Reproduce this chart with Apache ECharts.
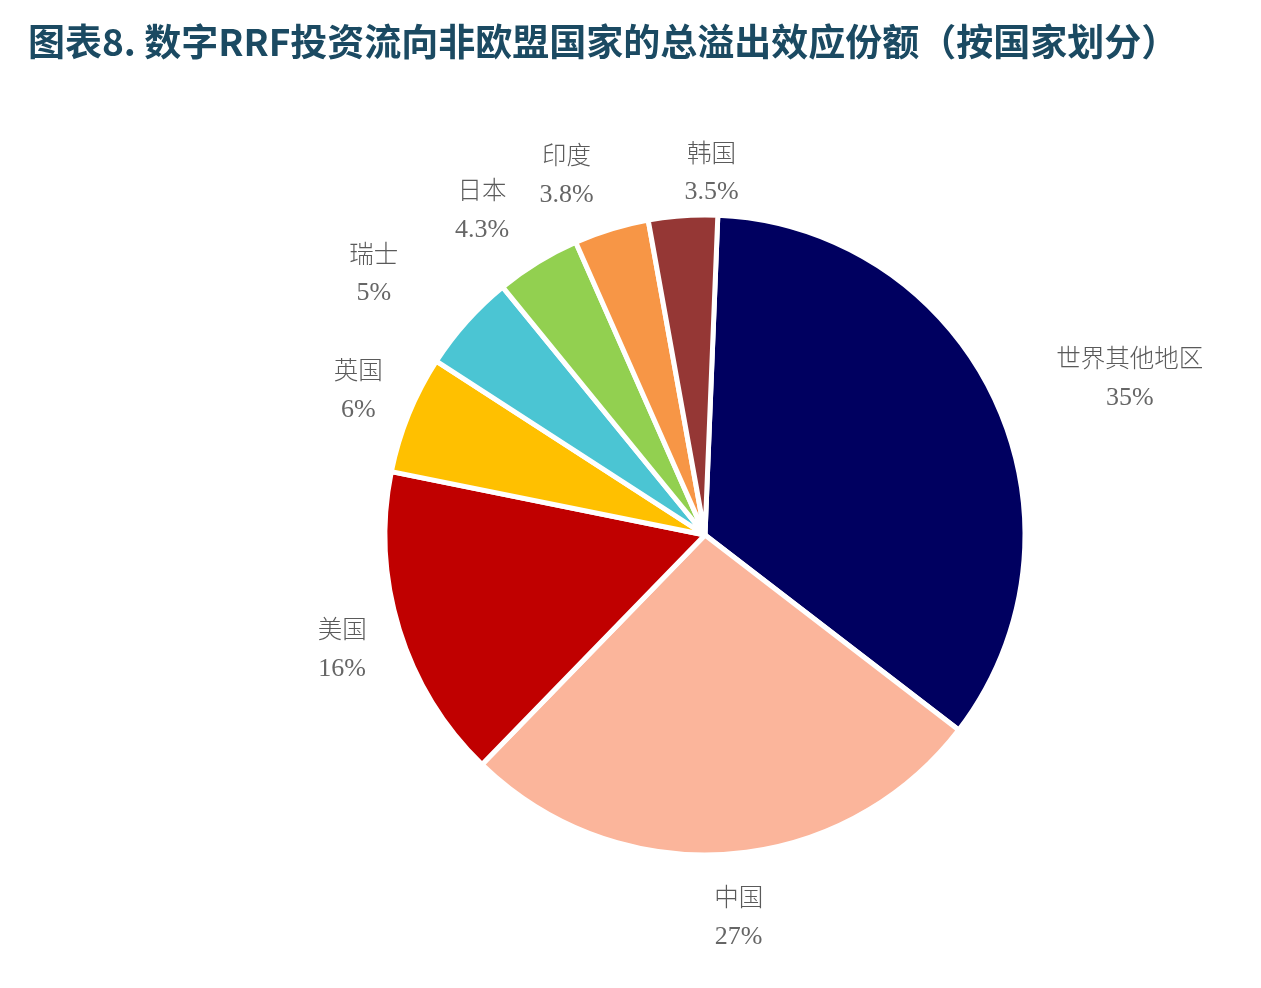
<!DOCTYPE html>
<html>
<head>
<meta charset="utf-8">
<script src="https://cdn.jsdelivr.net/npm/echarts@6/dist/echarts.min.js"></script>
<style>
  html, body { margin: 0; padding: 0; background: #fff; }
  #chart { width: 1261px; height: 988px; }
</style>
</head>
<body>
<div id="chart"></div>
<script>
const countries = ['世界其他地区', '中国', '美国', '英国', '瑞士', '日本', '印度', '韩国']
const shares = [35, 27, 16, 6, 5, 4.3, 3.8, 3.5]
const sliceColors = ['#000060', '#fbb59b', '#c00000', '#ffc000', '#4bc5d3', '#92d050', '#f79646', '#953735']

// label placement: distance past the rim, plus small hand nudges like in the original
const labelGap = 30
const labelNudge = {
  '世界其他地区': [38, 24],
  '中国': [6, 0],
  '美国': [-4, 3],
  '英国': [2, -3],
  '瑞士': [-46, -6],
  '日本': [-20, 6],
  '印度': [-26, 7],
  '韩国': [33, 19]
}

const chart = echarts.init(document.getElementById('chart'))

chart.setOption({
  animation: false,
  title: {
    text: '图表8. 数字RRF投资流向非欧盟国家的总溢出效应份额（按国家划分）',
    left: 23,
    top: 18,
    textStyle: {
      fontFamily: 'Noto Sans CJK SC',
      fontSize: 37,
      fontWeight: 'bold',
      color: '#1b4a62'
    }
  },
  series: [{
    type: 'pie',
    center: [705, 535],
    radius: 320,
    startAngle: 87.7,
    clockwise: true,
    avoidLabelOverlap: false,
    data: countries.map((name, i) => ({
      name: name,
      value: shares[i],
      itemStyle: { color: sliceColors[i] }
    })),
    itemStyle: {
      borderColor: '#fff',
      borderWidth: 5
    },
    label: {
      show: true,
      position: 'outside',
      formatter: p => '{n|' + p.name + '}\n{v|' + p.value + '%}',
      rich: {
        n: { fontFamily: 'Noto Sans CJK SC', fontWeight: 300, fontSize: 24.5, color: '#5a5a5a', lineHeight: 40, align: 'center' },
        v: { fontFamily: 'Liberation Serif', fontSize: 26, color: '#666666', lineHeight: 40, align: 'center' }
      }
    },
    labelLine: {
      show: true,
      length: labelGap,
      length2: 0,
      lineStyle: { opacity: 0 }
    },
    labelLayout: function (params) {
      const pts = params.labelLinePoints
      if (!pts) return {}
      let dx = pts[1][0] - pts[0][0]
      let dy = pts[1][1] - pts[0][1]
      const len = Math.sqrt(dx * dx + dy * dy) || 1
      dx /= len
      dy /= len
      const w = params.labelRect.width / 2
      const h = params.labelRect.height / 2
      const d = Math.min(Math.abs(dx) > 1e-6 ? w / Math.abs(dx) : Infinity,
                         Math.abs(dy) > 1e-6 ? h / Math.abs(dy) : Infinity)
      const nudge = labelNudge[countries[params.dataIndex]] || [0, 0]
      return {
        x: pts[1][0] + dx * d + nudge[0],
        y: pts[1][1] + dy * d + nudge[1],
        align: 'center',
        verticalAlign: 'middle'
      }
    }
  }]
})
</script>
</body>
</html>
